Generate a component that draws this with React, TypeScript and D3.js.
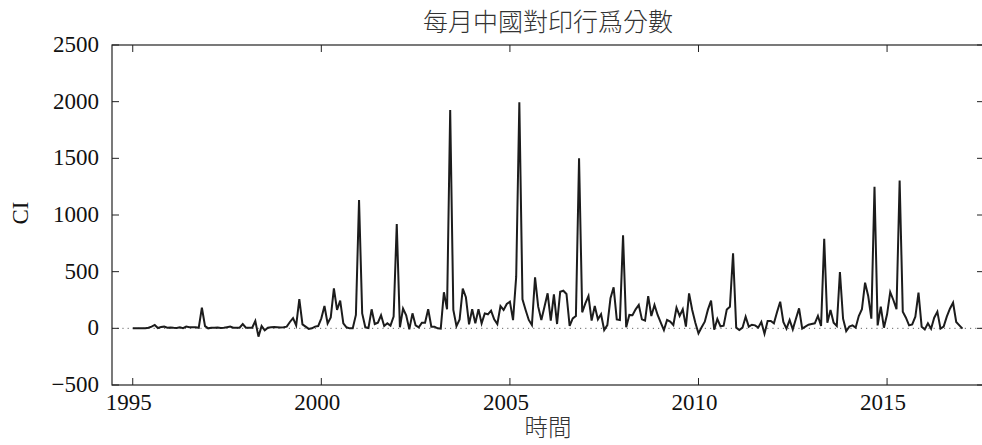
import React from "react";
import * as d3 from "d3";

const startYear = 1995;
const ciValues: number[] = [
  0, 0, 0, 0, 0, 5, 15, 30, 3, 12,
  15, 5, 8, 5, 3, 10, 2, 15, 10, 10,
  10, 5, 182, 20, 0, 5, 5, 8, 3, 5,
  10, 15, 5, 5, 5, 38, 5, 5, 5, 65,
  -73, 20, -18, 5, 10, 12, 10, 8, 10, 15,
  56, 90, 26, 257, 35, 15, -5, 0, 15, 20,
  88, 197, 44, 97, 353, 162, 244, 44, 9, 0,
  0, 118, 1132, 132, 9, 3, 168, 38, 50, 115,
  20, 44, 24, 103, 920, 9, 174, 115, -9, 132,
  26, 9, 50, 50, 168, 15, 15, 0, -3, 318,
  168, 1926, 162, 20, 79, 350, 274, 35, 168, 44,
  168, 44, 132, 124, 156, 79, 38, 197, 162, 215,
  235, 73, 456, 1994, 256, 162, 74, 29, 450, 191,
  74, 191, 309, 68, 300, 38, 323, 332, 303, 21,
  88, 109, 1500, 141, 220, 285, 68, 197, 79, 124,
  -15, 29, 265, 362, 79, 74, 820, 9, 118, 115,
  168, 206, 79, 68, 285, 109, 206, 118, 50, -15,
  74, 59, 29, 182, 109, 168, 15, 309, 162, 50,
  -45, 9, 59, 165, 245, -12, 82, 18, 24, 165,
  191, 662, 6, -15, 6, 103, 15, 32, 26, 6,
  56, -47, 65, 65, 44, 144, 235, 56, -3, 74,
  -9, 85, 176, -3, 15, 32, 38, 44, 109, 21,
  791, 50, 162, 50, 21, 497, 85, -24, 15, 26,
  6, 109, 168, 403, 285, 85, 1250, 26, 191, 6,
  124, 320, 250, 168, 1305, 147, 94, 26, 35, 103,
  315, 15, -9, 44, -3, 94, 147, -3, 15, 103,
  173, 226, 56, 26, -3,
];
const xTicks = [1995, 2000, 2005, 2010, 2015];
const yTicks = [-500, 0, 500, 1000, 1500, 2000, 2500];
const titleText = "每月中國對印行爲分數";
const xLabel = "時間";
const yLabel = "CI";

const W = 982;
const H = 445;
const L = 112;
const R = 984;
const T = 45;
const B = 385;

export default function App() {
  const x = d3.scaleLinear().domain([1994.45, 2017.57]).range([L, R]);
  const y = d3.scaleLinear().domain([-500, 2500]).range([B, T]);
  const pts = ciValues.map((v, i) => [startYear + i / 12, v] as [number, number]);
  const line = d3
    .line<[number, number]>()
    .x((d) => x(d[0]))
    .y((d) => y(d[1]));
  const serif = "'Liberation Serif', 'Times New Roman', serif";
  const cjk = "'Noto Sans CJK TC', 'Noto Sans CJK SC', sans-serif";
  const tl = 7;
  return (
    <div style={{ position: "absolute", left: 0, top: 0 }}>
      <svg width={W} height={H} style={{ display: "block", background: "#fff" }}>
        <text x={548} y={31} textAnchor="middle" fontFamily={cjk} fontSize={25} fill="#333" fontWeight={300}>
          {titleText}
        </text>
        <line x1={L} x2={R} y1={y(0)} y2={y(0)} stroke="#666" strokeWidth={1} strokeDasharray="1.2 4" />
        <path d={line(pts) || ""} fill="none" stroke="#1c1c1c" strokeWidth={2} />
        <rect x={L} y={T} width={R - L} height={B - T} fill="none" stroke="#222" strokeWidth={1.2} />
        {xTicks.map((t) => (
          <g key={"x" + t}>
            <line x1={x(t)} x2={x(t)} y1={B} y2={B - tl} stroke="#222" strokeWidth={1} />
            <line x1={x(t)} x2={x(t)} y1={T} y2={T + tl} stroke="#222" strokeWidth={1} />
            <text x={x(t) - 4} y={B + 25} textAnchor="middle" fontFamily={serif} fontSize={23} fill="#111">
              {String(t)}
            </text>
          </g>
        ))}
        {yTicks.map((t) => (
          <g key={"y" + t}>
            <line x1={L} x2={L + tl} y1={y(t)} y2={y(t)} stroke="#222" strokeWidth={1} />
            <line x1={R - tl} x2={R} y1={y(t)} y2={y(t)} stroke="#222" strokeWidth={1} />
            <text x={99} y={y(t) + 7} textAnchor="end" fontFamily={serif} fontSize={23} fill="#111">
              {t < 0 ? "\u2212" + Math.abs(t) : String(t)}
            </text>
          </g>
        ))}
        <text x={548} y={436} textAnchor="middle" fontFamily={cjk} fontSize={23.5} fill="#333" fontWeight={300}>
          {xLabel}
        </text>
        <text
          transform={`translate(28, ${(T + B) / 2 - 2}) rotate(-90)`}
          textAnchor="middle"
          fontFamily={serif}
          fontSize={23}
          fill="#111"
        >
          {yLabel}
        </text>
      </svg>
    </div>
  );
}
